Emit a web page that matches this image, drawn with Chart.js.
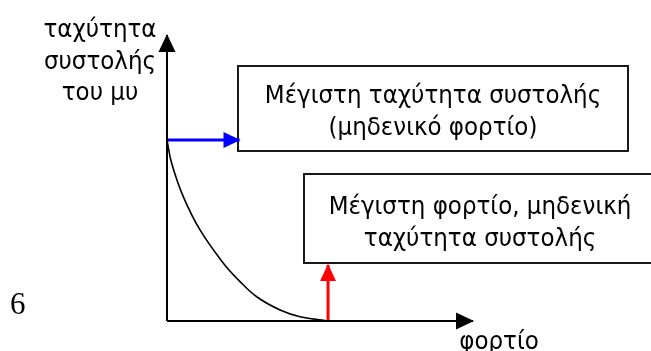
<!DOCTYPE html>
<html><head><meta charset="utf-8">
<script src="https://cdn.jsdelivr.net/npm/chart.js@4.4.1/dist/chart.umd.min.js"></script>
<style>html,body{margin:0;padding:0;background:#fff;overflow:hidden}</style>
</head><body>
<canvas id="c" width="651" height="351"></canvas>
<script>
// ---- data (conceptual force–velocity diagram) ----
const curveLoad     = [0, 2.9, 10.1, 20.5, 35.0, 44.3, 55.7, 70.2, 82.6, 100];
const curveVelocity = [100, 87.1, 68.7, 50.3, 31.9, 22.7, 13.4, 6.1, 2.4, 0];
const axisLoadRange     = [0, 190];
const axisVelocityRange = [0, 158];
const maxVelocityArrowLoad   = [0, 45];   // blue arrow, at velocity 100
const maxLoadArrowVelocity   = [0, 31];   // red arrow, at load 100
const yLabelLines = ['ταχύτητα', 'συστολής', 'του μυ'];
const xLabel = 'φορτίο';
const box1Lines = ['Μέγιστη ταχύτητα συστολής', '(μηδενικό φορτίο)'];
const box2Lines = ['Μέγιστη φορτίο, μηδενική', 'ταχύτητα συστολής'];
const pageNumber = '6';

const pts = (xs, ys) => xs.map((x, i) => ({x, y: ys[i]}));

const FONT = '25px "DejaVu Sans"';
const SX = 0.92; // horizontal squeeze to imitate a narrower face

function text(ctx, t, cx, y) {
  ctx.save();
  ctx.translate(cx, y);
  ctx.scale(SX, 1);
  ctx.fillText(t, 0, 0);
  ctx.restore();
}

const arrowPlugin = {
  id: 'arrowheads',
  afterDatasetsDraw(chart) {
    const ctx = chart.ctx;
    chart.data.datasets.forEach((ds, i) => {
      if (!ds.arrow) return;
      const meta = chart.getDatasetMeta(i);
      const n = meta.data.length;
      const a = meta.data[n - 2], b = meta.data[n - 1];
      const dx = b.x - a.x, dy = b.y - a.y;
      const L = Math.hypot(dx, dy);
      const ux = dx / L, uy = dy / L;
      const len = ds.arrow.length, hw = ds.arrow.halfWidth;
      const bx = b.x - ux * len, by = b.y - uy * len;
      ctx.save();
      ctx.fillStyle = ds.borderColor;
      ctx.beginPath();
      ctx.moveTo(b.x + ux * 1, b.y + uy * 1);
      ctx.lineTo(bx - uy * hw, by + ux * hw);
      ctx.lineTo(bx + uy * hw, by - ux * hw);
      ctx.closePath();
      ctx.fill();
      ctx.restore();
    });
  }
};

const notesPlugin = {
  id: 'notes',
  beforeDatasetsDraw(chart) {
    const ctx = chart.ctx;
    ctx.save();
    const boxes = [
      {x: 238, y: 66, w: 390, h: 85, lines: box1Lines, cx: 433, base: 103, gap: 32},
      {x: 304, y: 174, w: 360, h: 89, lines: box2Lines, cx: 480, base: 214, gap: 32}
    ];
    boxes.forEach(b => {
      ctx.fillStyle = '#fff';
      ctx.fillRect(b.x, b.y, b.w, b.h);
      ctx.strokeStyle = '#000';
      ctx.lineWidth = 1.8;
      ctx.strokeRect(b.x, b.y, b.w, b.h);
      ctx.fillStyle = '#000';
      ctx.font = FONT;
      ctx.textAlign = 'center';
      ctx.textBaseline = 'alphabetic';
      b.lines.forEach((t, k) => text(ctx, t, b.cx, b.base + k * b.gap));
    });
    ctx.fillStyle = '#000';
    ctx.font = FONT;
    ctx.textAlign = 'center';
    yLabelLines.forEach((t, k) => text(ctx, t, 100, 37 + k * 31.5));
    text(ctx, xLabel, 499, 349);
    ctx.font = '31px "Liberation Serif"';
    ctx.textAlign = 'left';
    ctx.fillText(pageNumber, 10, 314);
    ctx.restore();
  }
};

new Chart(document.getElementById('c'), {
  type: 'line',
  data: {
    datasets: [
      {
        label: 'καμπύλη',
        data: pts(curveLoad, curveVelocity),
        borderColor: '#000', borderWidth: 1.6,
        tension: 0.4,
        pointRadius: 0, clip: false
      },
      {
        label: 'άξονας φορτίου',
        data: pts(axisLoadRange, [0, 0]),
        borderColor: '#000', borderWidth: 2,
        pointRadius: 0, clip: false,
        arrow: {length: 17, halfWidth: 8.5}
      },
      {
        label: 'άξονας ταχύτητας',
        data: pts([0, 0], axisVelocityRange),
        borderColor: '#000', borderWidth: 2,
        pointRadius: 0, clip: false,
        arrow: {length: 17, halfWidth: 8.5}
      },
      {
        label: 'μέγιστη ταχύτητα',
        data: pts(maxVelocityArrowLoad, [100, 100]),
        borderColor: '#0000ff', borderWidth: 3,
        pointRadius: 0, clip: false,
        arrow: {length: 16, halfWidth: 8}
      },
      {
        label: 'μέγιστο φορτίο',
        data: pts([100, 100], maxLoadArrowVelocity),
        borderColor: '#ff0000', borderWidth: 3,
        pointRadius: 0, clip: false,
        arrow: {length: 16, halfWidth: 8}
      }
    ]
  },
  options: {
    responsive: false,
    animation: false,
    devicePixelRatio: 1,
    layout: {padding: {left: 167, right: 178, top: 35, bottom: 30}},
    scales: {
      x: {type: 'linear', min: axisLoadRange[0], max: axisLoadRange[1], display: false},
      y: {type: 'linear', min: axisVelocityRange[0], max: axisVelocityRange[1], display: false}
    },
    plugins: {legend: {display: false}, tooltip: {enabled: false}}
  },
  plugins: [notesPlugin, arrowPlugin]
});
</script>
</body></html>
